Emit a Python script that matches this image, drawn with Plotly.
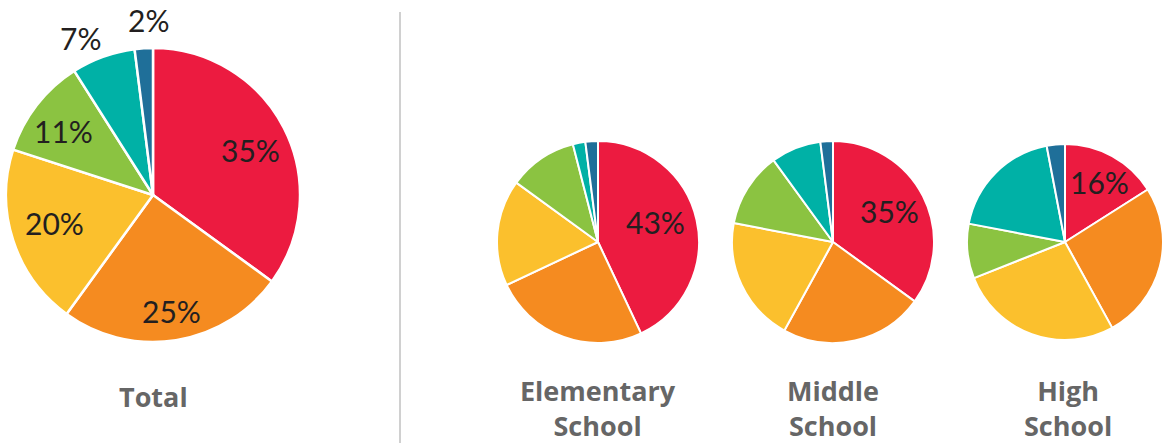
import math
import plotly.graph_objects as go

categories = ["Red", "Orange", "Yellow", "Green", "Teal", "Blue"]
colors = ["#EC1B40", "#F58B20", "#FBC02D", "#8BC341", "#00B1A6", "#1F6F99"]

total_values = [35, 25, 20, 11, 7, 2]
elementary_values = [43, 25, 17, 11, 2, 2]
middle_values = [35, 23, 20, 12, 8, 2]
high_values = [16, 26, 27, 9, 19, 3]

group_titles = ["Total", "Elementary<br>School", "Middle<br>School", "High<br>School"]

W, H = 1163, 443


def dom_x(cx, r):
    return [max(0, (cx - r) / W), min(1, (cx + r) / W)]


def dom_y(cy, r):
    return [1 - (cy + r) / H, 1 - (cy - r) / H]


def add_pie(vals, cx, cy, r, lw):
    dx = dom_x(cx, r)
    dy = dom_y(cy, r)
    fig.add_trace(go.Pie(
        labels=categories, values=vals, sort=False, direction="clockwise",
        marker=dict(colors=colors, line=dict(color="white", width=lw)),
        textinfo="none", domain=dict(x=dx, y=dy),
        hoverinfo="label+percent", showlegend=False,
    ))
    w = (dx[1] - dx[0]) * W
    h = (dy[1] - dy[0]) * H
    rr = min(w, h) / 2
    ccx = (dx[0] + dx[1]) / 2 * W
    ccy = (1 - (dy[0] + dy[1]) / 2) * H
    return ccx, ccy, rr


def label(vals, idx, geom, rf, dang=0.0):
    ccx, ccy, rr = geom
    tot = sum(vals)
    start = sum(vals[:idx])
    mid = (start + vals[idx] / 2) / tot * 2 * math.pi + math.radians(dang)
    x = ccx + rf * rr * math.sin(mid)
    y = ccy - rf * rr * math.cos(mid)
    fig.add_annotation(
        x=x / W, y=1 - y / H, xref="paper", yref="paper",
        text=f"{vals[idx]}%", showarrow=False,
        font=dict(family="Lato, Open Sans, sans-serif", size=30, color="#231F20"),
        xanchor="center", yanchor="middle",
    )


fig = go.Figure()

g_total = add_pie(total_values, 153, 195, 147, 2.5)
total_rf = [0.73, 0.80, 0.70, 0.75, 1.18, 1.19]
total_da = [2, 0, 2, -2, -5, 2]
for i in range(len(total_values)):
    label(total_values, i, g_total, total_rf[i], total_da[i])

small_specs = [(elementary_values, 598, 0.60, -7), (middle_values, 833, 0.64, -2),
               (high_values, 1068, 0.70, 1)]
for vals, cx, rf, da in small_specs:
    g = add_pie(vals, cx, 242, 101, 2)
    label(vals, 0, g, rf, da)

title_font = dict(family="Open Sans, sans-serif", size=27, color="#666666", weight="bold")
title_pos = [(153, 396), (598, 408), (833, 408), (1068, 408)]
for t, (x, y) in zip(group_titles, title_pos):
    fig.add_annotation(
        x=x / W, y=1 - y / H, xref="paper", yref="paper", text=t, showarrow=False,
        font=title_font, xanchor="center", yanchor="middle", align="center",
    )

fig.add_shape(type="line", xref="paper", yref="paper",
              x0=400 / W, x1=400 / W, y0=0, y1=1 - 12 / H,
              line=dict(color="#D0D0D0", width=2))

fig.update_layout(
    width=W, height=H, margin=dict(l=0, r=0, t=0, b=0),
    paper_bgcolor="white", plot_bgcolor="white",
)

fig.write_html(
    "out.html",
    config={"displayModeBar": False},
    post_script="document.body.style.margin='0';document.body.style.overflow='hidden';",
)
